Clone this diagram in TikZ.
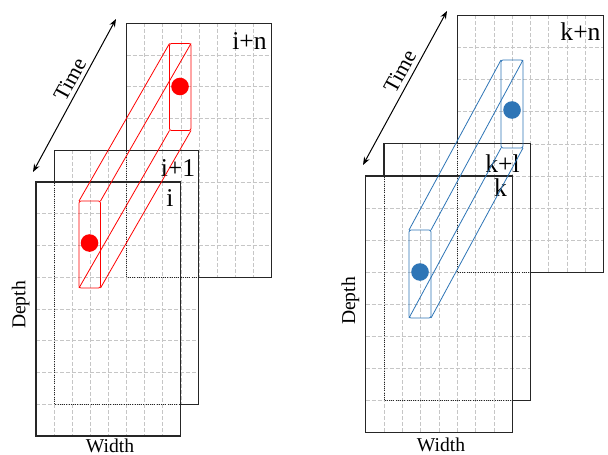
\documentclass[tikz,border=0pt]{standalone}
\usepackage{fontspec}
\setmainfont{Liberation Serif}
\usetikzlibrary{arrows.meta}
\definecolor{tubeblue}{RGB}{46,117,182}
\tikzset{
  gridline/.style={gray!45,line width=0.3pt,dash pattern=on 2pt off 1pt},
  plate/.style={black!85,line width=0.55pt},
  hidden/.style={black!85,line width=0.5pt,dash pattern=on 0.5pt off 0.6pt},
  tube/.style={line width=0.4pt,rounded corners=1pt},
  edge/.style={line width=0.4pt},
  framelabel/.style={font=\fontsize{12.8}{14}\selectfont,inner sep=0pt},
  axislabel/.style={font=\fontsize{9.8}{11}\selectfont,inner sep=0pt},
  timelabel/.style={font=\fontsize{10.9}{12}\selectfont,inner sep=0pt},
  timearrow/.style={{Stealth[length=4pt,width=3pt]}-{Stealth[length=4pt,width=3pt]},line width=0.5pt},
}
% one sheet: corner x, corner y, cell width, cell height
\newcommand{\sheet}[4]{%
  \fill[white] (#1,#2) rectangle ++(8*#3,8*#4);
  \foreach \k in {1,...,7}{
    \draw[gridline] (#1+\k*#3,#2) -- ++(0,8*#4);
    \draw[gridline] (#1,#2+\k*#4) -- ++(8*#3,0);
  }
  \draw[plate] (#1,#2) rectangle ++(8*#3,8*#4);
}
\begin{document}
\begin{tikzpicture}[x=0.5pt,y=-0.5pt]
\useasboundingbox (0,0) rectangle (608,454);

% left stack
\sheet{126.5}{23.25}{18.1}{31.75}
\sheet{54.1}{150.25}{18.1}{31.75}
\sheet{36}{182}{18.1}{31.75}
\draw[hidden] (126.5,23.25) rectangle ++(144.8,254);
\draw[hidden] (54.1,150.25) rectangle ++(144.8,254);

% right stack
\sheet{457.2}{15.5}{18.3}{32.1}
\sheet{384}{143.9}{18.3}{32.1}
\sheet{365.7}{176}{18.3}{32.1}
\draw[hidden] (457.2,15.5) rectangle ++(146.4,256.8);
\draw[hidden] (384,143.9) rectangle ++(146.4,256.8);

% labels
\node[framelabel] (in) at (249.5,41) {i+n};
\node[framelabel] (i1) at (178,168) {i+1};
\node[framelabel] (i0) at (170,198.5) {i};
\node[framelabel] (kn) at (580.5,31.5) {k+n};
\node[framelabel] (k1) at (502.5,164) {k+l};
\node[framelabel] (k0) at (500.5,188) {k};

\node[axislabel,rotate=90] (depthL) at (20.7,305) {Depth};
\node[axislabel] (widthL) at (110,446) {Width};
\node[axislabel,rotate=90] (depthR) at (350.5,301) {Depth};
\node[axislabel] (widthR) at (441,445) {Width};

% time axes
\coordinate (tL1) at (33,172);
\coordinate (tL2) at (116,19);
\draw[timearrow] (tL1) -- (tL2);
\node[timelabel,rotate=61.5] (timeL) at (70,79.5) {Time};
\coordinate (tR1) at (363,165);
\coordinate (tR2) at (447,11);
\draw[timearrow] (tR1) -- (tR2);
\node[timelabel,rotate=61.4] (timeR) at (400,71.5) {Time};

% red tube
\draw[red,tube] (79,201) rectangle (100.5,288);
\draw[red,tube] (169.5,43.5) rectangle (191,130.5);
\foreach \a/\b in {79/201,100.5/201,79/288,100.5/288}
  \draw[red,edge] (\a,\b) -- ++(90.5,-157.5);
\fill[red] (89.5,243) circle[radius=4.4pt];
\fill[red] (180,86.5) circle[radius=4.4pt];

% blue tube
\draw[tubeblue,tube] (409,230) rectangle (431,318);
\draw[tubeblue,tube] (501,60) rectangle (523,148);
\foreach \a/\b in {409/230,431/230,409/318,431/318}
  \draw[tubeblue,edge] (\a,\b) -- ++(92,-170);
\fill[tubeblue] (420,272) circle[radius=4.4pt];
\fill[tubeblue] (512,110) circle[radius=4.4pt];
\end{tikzpicture}
\end{document}
